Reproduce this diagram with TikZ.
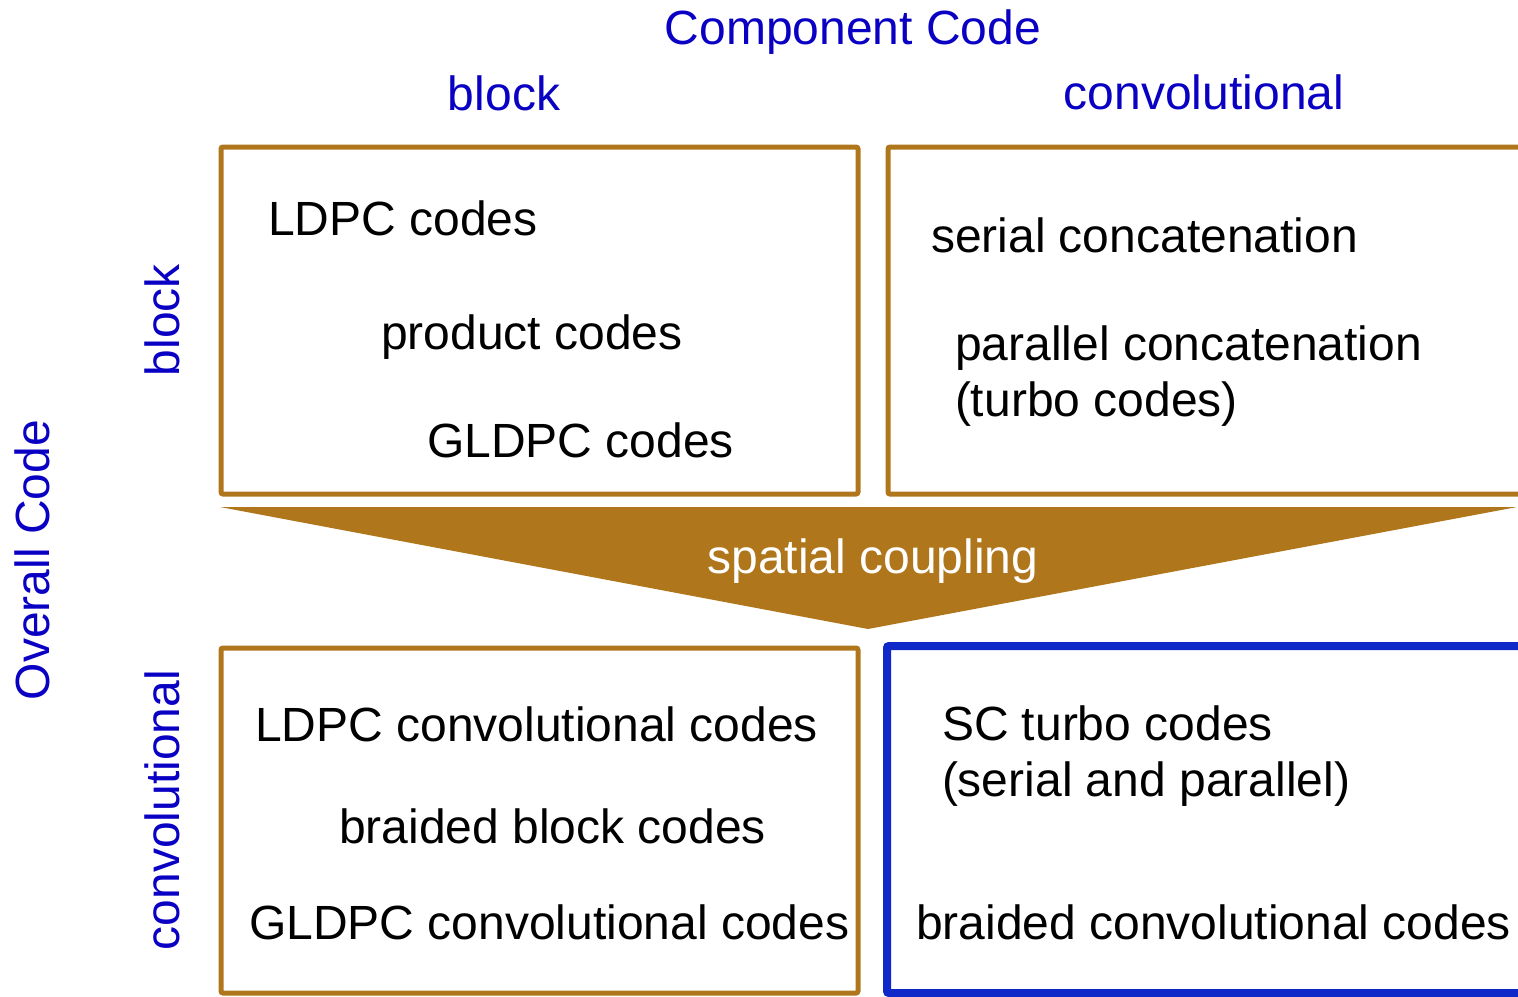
\documentclass[tikz,border=0pt]{standalone}
\usepackage{fontspec}
\setmainfont{Liberation Sans}
\definecolor{codebrown}{RGB}{176,118,27}
\definecolor{labelblue}{RGB}{10,0,195}
\definecolor{boxblue}{RGB}{15,40,200}
\begin{document}
\begin{tikzpicture}[x=1pt,y=-1pt,every node/.style={inner sep=0pt, outer sep=0pt, font=\fontsize{48}{55}\selectfont},
  head/.style={text=labelblue, anchor=base},
  entry/.style={anchor=base west},
  codebox/.style={draw=codebrown, line width=5pt, rounded corners=2pt}]
\useasboundingbox (0,0) rectangle (1518,996);
\clip (0,0) rectangle (1518,996);
\draw[codebox] (221,147) rectangle (858,494);
\draw[codebox] (888,147) rectangle (1545,494);
\draw[codebox] (221,648) rectangle (858,993);
\draw[codebox, draw=boxblue, line width=8pt] (887,646) rectangle (1545,993);
\fill[codebrown] (220,507) -- (1517,507) -- (868,629) -- cycle;
\node[head] (compcode) at (853,44) {Component Code};
\node[head] (compblock) at (504,110) {block};
\node[head] (compconv) at (1204,109) {convolutional};
\node[head, rotate=90] (overall) at (49,560) {Overall Code};
\node[head, rotate=90] (ovblock) at (179,320) {block};
\node[head, rotate=90] (ovconv) at (179,810) {convolutional};
\node[entry] (ldpc) at (268,235) {LDPC codes};
\node[entry] (product) at (381,349) {product codes};
\node[entry] (gldpc) at (427,457) {GLDPC codes};
\node[entry] (serial) at (931,252) {serial concatenation};
\node[entry] (parallel) at (955,360) {parallel concatenation};
\node[entry] (turbo) at (955,416) {(turbo codes)};
\node[text=white, anchor=base] (coupling) at (873,573) {spatial coupling};
\node[entry] (ldpccc) at (255,741) {LDPC convolutional codes};
\node[entry] (bbc) at (339,843) {braided block codes};
\node[entry] (gldpccc) at (249,939) {GLDPC convolutional codes};
\node[entry] (sctc) at (942,740) {SC turbo codes};
\node[entry] (scboth) at (942,796) {(serial and parallel)};
\node[entry] (bcc) at (916,939) {braided convolutional codes};
\end{tikzpicture}
\end{document}
